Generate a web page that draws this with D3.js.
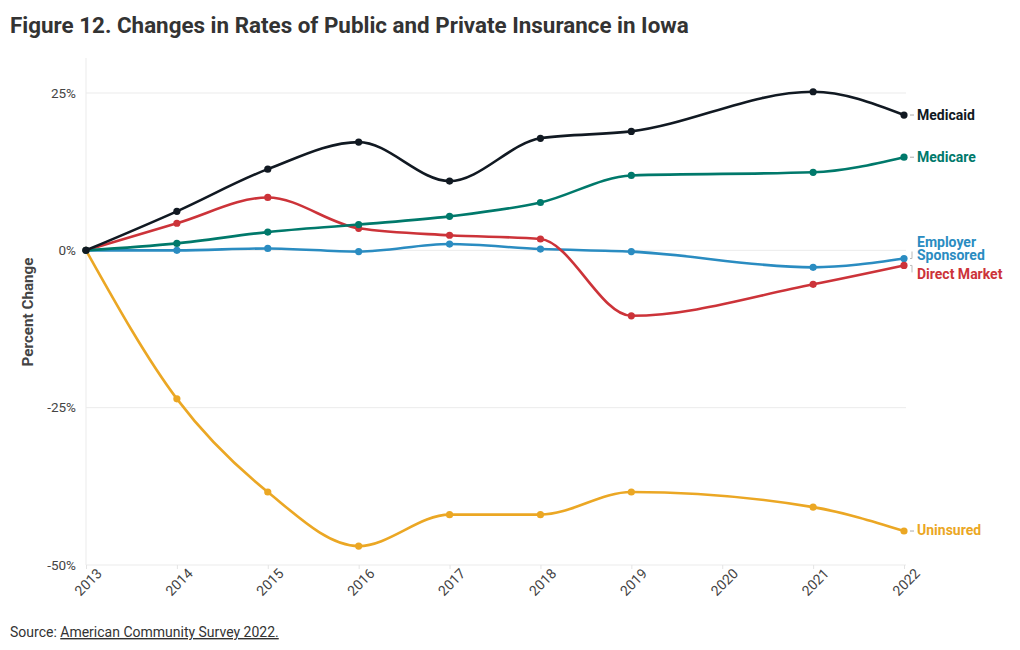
<!DOCTYPE html>
<html><head><meta charset="utf-8">
<script src="https://cdn.jsdelivr.net/npm/d3@7"></script>
<style>
body{margin:0;background:#fff;font-family:Roboto,"Noto Sans",sans-serif;}
</style></head>
<body><svg id="c" width="1020" height="650"></svg>
<script>
const years = [2013,2014,2015,2016,2017,2018,2019,2020,2021,2022];
const medicaid   = [0, 6.2, 12.9, 17.2, 11.0, 17.8, 18.9, null, 25.2, 21.5];
const medicare   = [0, 1.1, 2.9, 4.1, 5.4, 7.6, 11.9, null, 12.4, 14.8];
const employer   = [0, 0.0, 0.3, -0.2, 1.0, 0.2, -0.2, null, -2.7, -1.3];
const direct     = [0, 4.3, 8.4, 3.5, 2.4, 1.8, -10.4, null, -5.4, -2.4];
const uninsured  = [0, -23.6, -38.4, -47.0, -42.0, -42.0, -38.4, null, -40.8, -44.6];
const yTicks = [25, 0, -25, -50];
const seriesNames = ["Medicaid","Medicare","Employer Sponsored","Direct Market","Uninsured"];
const seriesColors = ["#111922","#00796b","#2a8cc1","#cc3339","#eba724"];
const seriesValues = [medicaid, medicare, employer, direct, uninsured];

const svg = d3.select("#c");
const x = d3.scaleLinear().domain([2013,2022]).range([86,904]);
const y = d3.scaleLinear().domain([25,-50]).range([93,565]);

svg.append("text").attr("x",10).attr("y",33).text("Figure 12. Changes in Rates of Public and Private Insurance in Iowa")
  .attr("font-size",22.4).attr("font-weight",700).attr("fill","#333").attr("font-family","Roboto");

// grid
svg.append("g").selectAll("line").data(yTicks).join("line")
  .attr("x1",86).attr("x2",906).attr("y1",d=>y(d)).attr("y2",d=>y(d))
  .attr("stroke","#ebebeb").attr("stroke-width",1);
svg.append("line").attr("x1",86).attr("x2",86).attr("y1",58).attr("y2",565).attr("stroke","#ebebeb");

// y axis labels
const yAxis = d3.axisLeft(y).tickValues(yTicks).tickSize(0).tickPadding(10).tickFormat(d=>d+"%");
const ya = svg.append("g").attr("transform","translate(86,0)").call(yAxis);
ya.select(".domain").remove();
ya.selectAll("text").attr("font-size",13.5).attr("fill","#444").attr("font-family","Roboto");

// x axis
const xAxis = d3.axisBottom(x).tickValues(years).tickSize(4).tickFormat(d3.format("d"));
const xa = svg.append("g").attr("transform","translate(0,565)").call(xAxis);
xa.select(".domain").remove();
xa.selectAll("line").attr("stroke","#e4e4e4");
xa.selectAll("text").attr("font-size",14).attr("fill","#444").attr("font-family","Roboto")
  .attr("text-anchor","end").attr("dx","0.35em").attr("dy","0.8em").attr("transform","rotate(-45)");

svg.append("text").attr("transform","translate(33,312) rotate(-90)").attr("text-anchor","middle")
  .text("Percent Change").attr("font-size",15.2).attr("font-weight",700).attr("fill","#444").attr("font-family","Roboto");

const line = d3.line().x(d=>x(d.year)).y(d=>y(d.v)).curve(d3.curveMonotoneX);
const order = [4,2,3,1,0];
order.forEach(i=>{
  const pts = years.map((yr,j)=>({year:yr,v:seriesValues[i][j]})).filter(p=>p.v!==null);
  svg.append("path").datum(pts).attr("d",line).attr("fill","none")
    .attr("stroke",seriesColors[i]).attr("stroke-width",2.6).attr("stroke-linejoin","round");
  svg.append("g").selectAll("circle").data(pts).join("circle")
    .attr("cx",d=>x(d.year)).attr("cy",d=>y(d.v)).attr("r",3.6).attr("fill",seriesColors[i]);
});

// labels
const labelPos = [
  {i:0, lines:["Medicaid"], ly:[120], dash:true},
  {i:1, lines:["Medicare"], ly:[162], dash:true},
  {i:2, lines:["Employer","Sponsored"], ly:[246.5,260], dash:false},
  {i:3, lines:["Direct Market"], ly:[279], dash:false},
  {i:4, lines:["Uninsured"], ly:[535], dash:true}
];
labelPos.forEach(l=>{
  const t = svg.append("text").attr("font-size",14).attr("font-weight",700).attr("fill",seriesColors[l.i]).attr("font-family","Roboto");
  l.lines.forEach((s,k)=>t.append("tspan").attr("x",917).attr("y",l.ly[k]).text(s));
  if (l.dash) {
    const ey = y(seriesValues[l.i][9]);
    svg.append("line").attr("x1",910).attr("x2",914).attr("y1",ey).attr("y2",ey).attr("stroke","#aaa");
  }
});
const eY = y(employer[9]), dY = y(direct[9]);
svg.append("path").attr("d",`M910,${eY}H912V${eY-7}`).attr("fill","none").attr("stroke","#bbb");
svg.append("path").attr("d",`M910,${dY}H912V${dY+7}`).attr("fill","none").attr("stroke","#bbb");

const src = svg.append("text").attr("x",10).attr("y",637).attr("font-size",14).attr("fill","#333").attr("font-family","Roboto");
src.append("tspan").text("Source: ");
src.append("tspan").text("American Community Survey 2022.").attr("text-decoration","underline");
</script></body></html>
